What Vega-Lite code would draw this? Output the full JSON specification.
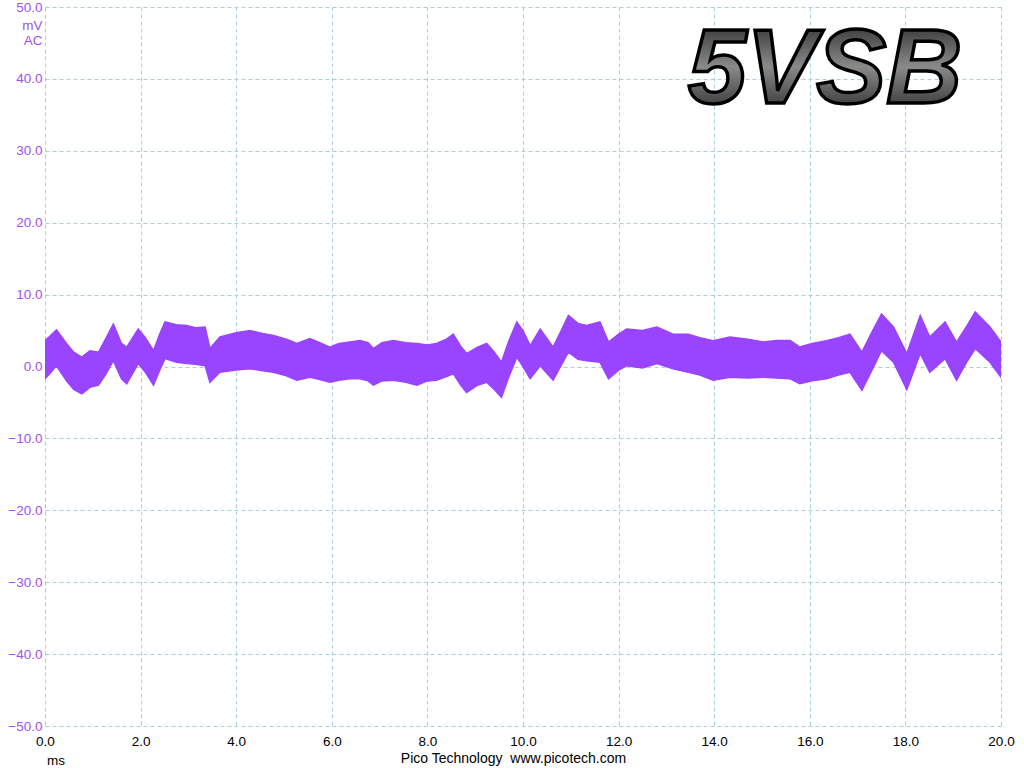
{
  "$schema": "https://vega.github.io/schema/vega-lite/v6.json",
  "width": 956,
  "height": 719,
  "autosize": {"type": "none"},
  "padding": {"left": 45, "top": 7, "right": 23, "bottom": 42},
  "background": "white",
  "config": {
    "view": {"stroke": null},
    "axis": {
      "domain": false,
      "ticks": false,
      "grid": true,
      "gridColor": "#a6cfe2",
      "gridDash": [4, 3],
      "gridWidth": 1,
      "labelFont": "Liberation Sans",
      "labelFontSize": 13.5,
      "titleFont": "Liberation Sans",
      "titleFontSize": 13.5,
      "titleFontWeight": "normal"
    }
  },
  "layer": [
    {
      "data": {
        "values": [
          {"t": 0.00, "hi": 3.6, "lo": -1.7},
          {"t": 0.10, "hi": 4.2, "lo": -1.0},
          {"t": 0.24, "hi": 5.1, "lo": 0.1},
          {"t": 0.45, "hi": 3.2, "lo": -2.0},
          {"t": 0.60, "hi": 2.0, "lo": -3.2},
          {"t": 0.77, "hi": 1.3, "lo": -3.8},
          {"t": 0.94, "hi": 2.2, "lo": -2.9},
          {"t": 1.12, "hi": 2.0, "lo": -2.6},
          {"t": 1.28, "hi": 4.0, "lo": -1.0},
          {"t": 1.43, "hi": 5.9, "lo": 0.8},
          {"t": 1.60, "hi": 3.2, "lo": -1.7},
          {"t": 1.71, "hi": 2.7, "lo": -2.4},
          {"t": 1.95, "hi": 5.2, "lo": 0.4},
          {"t": 2.10, "hi": 4.0, "lo": -0.8},
          {"t": 2.27, "hi": 2.2, "lo": -2.6},
          {"t": 2.40, "hi": 4.5, "lo": -0.5},
          {"t": 2.51, "hi": 6.2, "lo": 1.1},
          {"t": 2.75, "hi": 5.8, "lo": 0.6},
          {"t": 2.96, "hi": 5.7, "lo": 0.4},
          {"t": 3.15, "hi": 5.4, "lo": 0.3},
          {"t": 3.35, "hi": 5.5, "lo": 0.1},
          {"t": 3.45, "hi": 2.5, "lo": -2.2},
          {"t": 3.66, "hi": 4.1, "lo": -0.8},
          {"t": 4.00, "hi": 4.7, "lo": -0.5},
          {"t": 4.29, "hi": 5.0, "lo": -0.3},
          {"t": 4.55, "hi": 4.6, "lo": -0.6},
          {"t": 4.78, "hi": 4.3, "lo": -0.8},
          {"t": 5.05, "hi": 3.8, "lo": -1.3},
          {"t": 5.27, "hi": 3.2, "lo": -1.9},
          {"t": 5.54, "hi": 3.9, "lo": -1.5},
          {"t": 5.75, "hi": 3.3, "lo": -1.8},
          {"t": 5.96, "hi": 2.7, "lo": -2.2},
          {"t": 6.15, "hi": 3.2, "lo": -1.9},
          {"t": 6.38, "hi": 3.4, "lo": -1.7},
          {"t": 6.59, "hi": 3.6, "lo": -1.7},
          {"t": 6.76, "hi": 3.3, "lo": -2.0},
          {"t": 6.87, "hi": 2.5, "lo": -2.6},
          {"t": 7.05, "hi": 3.3, "lo": -2.0},
          {"t": 7.29, "hi": 3.6, "lo": -1.9},
          {"t": 7.55, "hi": 3.3, "lo": -2.2},
          {"t": 7.78, "hi": 3.2, "lo": -2.6},
          {"t": 8.00, "hi": 3.0, "lo": -2.0},
          {"t": 8.19, "hi": 3.2, "lo": -1.9},
          {"t": 8.40, "hi": 3.8, "lo": -1.4},
          {"t": 8.54, "hi": 4.5, "lo": -1.0},
          {"t": 8.70, "hi": 2.8, "lo": -2.6},
          {"t": 8.82, "hi": 1.8, "lo": -3.6},
          {"t": 9.05, "hi": 2.7, "lo": -2.6},
          {"t": 9.24, "hi": 3.2, "lo": -2.2},
          {"t": 9.40, "hi": 2.0, "lo": -3.2},
          {"t": 9.55, "hi": 0.6, "lo": -4.3},
          {"t": 9.70, "hi": 3.5, "lo": -1.5},
          {"t": 9.87, "hi": 6.2, "lo": 1.3},
          {"t": 10.00, "hi": 5.0, "lo": 0.0},
          {"t": 10.15, "hi": 2.9, "lo": -1.7},
          {"t": 10.36, "hi": 5.2, "lo": 0.1},
          {"t": 10.63, "hi": 2.7, "lo": -1.9},
          {"t": 10.80, "hi": 5.0, "lo": 0.2},
          {"t": 10.95, "hi": 7.1, "lo": 2.0},
          {"t": 11.15, "hi": 6.0, "lo": 1.0},
          {"t": 11.33, "hi": 5.7, "lo": 0.8},
          {"t": 11.61, "hi": 6.2, "lo": 0.6},
          {"t": 11.79, "hi": 3.4, "lo": -1.7},
          {"t": 12.00, "hi": 4.5, "lo": -0.5},
          {"t": 12.17, "hi": 5.2, "lo": 0.1},
          {"t": 12.50, "hi": 5.0, "lo": -0.2},
          {"t": 12.80, "hi": 5.5, "lo": 0.4},
          {"t": 13.14, "hi": 4.5, "lo": -0.3},
          {"t": 13.46, "hi": 4.5, "lo": -0.8},
          {"t": 13.70, "hi": 4.0, "lo": -1.2},
          {"t": 13.98, "hi": 3.6, "lo": -1.9},
          {"t": 14.33, "hi": 4.1, "lo": -1.5},
          {"t": 14.70, "hi": 3.8, "lo": -1.6},
          {"t": 15.03, "hi": 3.4, "lo": -1.5},
          {"t": 15.30, "hi": 3.6, "lo": -1.6},
          {"t": 15.59, "hi": 3.6, "lo": -1.7},
          {"t": 15.79, "hi": 2.7, "lo": -2.4},
          {"t": 16.05, "hi": 3.2, "lo": -2.0},
          {"t": 16.35, "hi": 3.6, "lo": -1.7},
          {"t": 16.60, "hi": 4.0, "lo": -1.2},
          {"t": 16.84, "hi": 4.5, "lo": -0.8},
          {"t": 17.09, "hi": 2.0, "lo": -3.3},
          {"t": 17.30, "hi": 4.8, "lo": -0.5},
          {"t": 17.50, "hi": 7.3, "lo": 2.2},
          {"t": 17.75, "hi": 5.5, "lo": 0.6},
          {"t": 18.03, "hi": 1.8, "lo": -3.2},
          {"t": 18.31, "hi": 7.1, "lo": 1.8},
          {"t": 18.51, "hi": 4.1, "lo": -0.8},
          {"t": 18.83, "hi": 6.2, "lo": 1.1},
          {"t": 19.07, "hi": 3.4, "lo": -1.9},
          {"t": 19.30, "hi": 5.8, "lo": 0.8},
          {"t": 19.46, "hi": 7.6, "lo": 2.5},
          {"t": 19.77, "hi": 5.5, "lo": 0.6},
          {"t": 20.00, "hi": 3.4, "lo": -1.5}
        ]
      },
      "mark": {"type": "area", "color": "#9944ff", "opacity": 1, "clip": true, "stroke": "#9944ff", "strokeWidth": 1.5},
      "encoding": {
        "x": {
          "field": "t",
          "type": "quantitative",
          "scale": {"domain": [0, 20], "nice": false, "zero": false},
          "axis": {
            "values": [0, 2, 4, 6, 8, 10, 12, 14, 16, 18, 20],
            "format": ".1f",
            "labelColor": "black",
            "labelPadding": 8,
            "labelFlush": false,
            "title": "Pico Technology\u00a0\u00a0www.picotech.com",
            "titleColor": "black",
            "titleFontSize": 14,
            "titlePadding": 4,
            "titleX": 468
          }
        },
        "y": {
          "field": "hi",
          "type": "quantitative",
          "scale": {"domain": [-50, 50], "nice": false},
          "axis": {
            "values": [-50, -40, -30, -20, -10, 0, 10, 20, 30, 40, 50],
            "format": ".1f",
            "labelColor": "#a052f0",
            "labelPadding": 3,
            "labelFlush": false,
            "title": ["mV", "AC"],
            "titleColor": "#a052f0",
            "titleAngle": 0,
            "titleAlign": "right",
            "titleBaseline": "top",
            "titleLineHeight": 15,
            "titleX": -3,
            "titleY": 11
          }
        },
        "y2": {"field": "lo"}
      }
    },
    {
      "data": {"values": [{"t": 13.45, "v": 36.6, "label": "5VSB"}]},
      "mark": {
        "type": "text",
        "font": "Liberation Sans",
        "fontSize": 105,
        "fontWeight": "bold",
        "fontStyle": "italic",
        "align": "left",
        "baseline": "alphabetic",
        "fill": {
          "gradient": "linear",
          "x1": 0, "y1": 0, "x2": 0, "y2": 1,
          "stops": [
            {"offset": 0, "color": "#1a1a1a"},
            {"offset": 0.5, "color": "#8a8a8a"},
            {"offset": 1, "color": "#1a1a1a"}
          ]
        },
        "stroke": "#000000",
        "strokeWidth": 3.5
      },
      "encoding": {
        "x": {"field": "t", "type": "quantitative"},
        "y": {"field": "v", "type": "quantitative"},
        "text": {"field": "label"}
      }
    },
    {
      "data": {"values": [{"t": 0, "v": -50, "label": "ms"}]},
      "mark": {
        "type": "text",
        "font": "Liberation Sans",
        "fontSize": 13.5,
        "align": "left",
        "baseline": "top",
        "dx": 2,
        "dy": 28,
        "color": "black"
      },
      "encoding": {
        "x": {"field": "t", "type": "quantitative"},
        "y": {"field": "v", "type": "quantitative"},
        "text": {"field": "label"}
      }
    }
  ]
}
